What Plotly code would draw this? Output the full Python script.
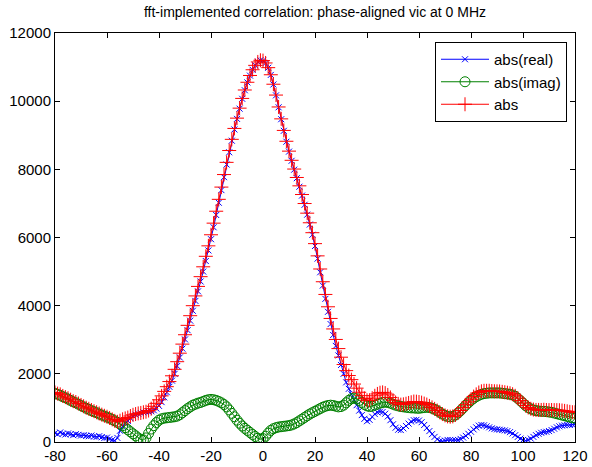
import plotly.graph_objects as go

lags = list(range(-80, 121))

abs_real = [
    260, 230, 280, 240, 220, 250, 230, 200, 230, 210, 190, 200, 180, 170, 190, 160, 150, 170, 140, 120, 130, 90, 60, 40, 120,
    330, 460, 550, 620, 700, 760, 800, 830, 850, 870, 880,
    890, 900, 930, 980, 1060, 1170, 1310, 1460, 1620, 1800,
    2000, 2230, 2480, 2740, 3010, 3280, 3560, 3850, 4140, 4420,
    4710, 5000, 5310, 5620, 5950, 6300, 6660, 7020, 7390, 7770,
    8140, 8500, 8840, 9170, 9480, 9780, 10070, 10320, 10550, 10750,
    10920, 11050, 11150, 11200, 11190, 11120, 10980, 10770, 10490, 10170,
    9820, 9470, 9130, 8810, 8520, 8250, 7990, 7740, 7490, 7230,
    6960, 6670, 6380, 6080, 5750, 5380, 4980, 4590, 4200, 3820,
    3460, 3140, 2820, 2540, 2260, 2000, 1750, 1560, 1400, 1240,
    1080, 920, 790, 680, 610, 650, 740, 820, 870, 890,
    880, 830, 750, 640, 520, 420, 360, 350, 400, 470,
    540, 600, 640, 650, 630, 580, 500, 410, 320, 230,
    150, 80, 30, 20, 40, 60, 60, 50, 50, 60,
    90, 130, 180, 240, 300, 370, 430, 480, 500, 490,
    460, 430, 400, 380, 370, 360, 350, 340, 320, 290,
    250, 200, 150, 100, 60, 40, 60, 100, 150, 200,
    240, 270, 290, 300, 320, 350, 390, 430, 460, 480,
    490, 500, 500, 510, 520,
]

abs_imag = [
    1430, 1400, 1370, 1330, 1300, 1260, 1220, 1180, 1150, 1110, 1070, 1030, 990, 960, 920, 890, 860, 820, 790, 760, 730, 700, 660, 620, 580,
    530, 480, 420, 360, 300, 240, 180, 120, 70, 60, 120,
    250, 380, 480, 570, 640, 680, 700, 710, 720, 730,
    740, 760, 800, 860, 920, 980, 1030, 1080, 1110, 1140,
    1160, 1190, 1220, 1240, 1250, 1240, 1220, 1190, 1150, 1100,
    1030, 940, 840, 740, 640, 550, 470, 400, 340, 280,
    220, 160, 110, 80, 100, 170, 260, 340, 390, 420,
    440, 450, 460, 470, 480, 500, 530, 570, 620, 670,
    720, 770, 820, 860, 900, 940, 980, 1020, 1050, 1070,
    1080, 1070, 1050, 1030, 1040, 1080, 1150, 1220, 1270, 1290,
    1270, 1220, 1160, 1100, 1060, 1040, 1050, 1080, 1110, 1140,
    1160, 1170, 1160, 1140, 1110, 1080, 1060, 1040, 1030, 1020,
    1010, 1000, 1000, 990, 990, 1000, 1010, 1020, 1010, 990,
    960, 920, 870, 820, 780, 750, 740, 750, 790, 850,
    920, 1000, 1080, 1150, 1220, 1280, 1330, 1370, 1400, 1420,
    1430, 1440, 1440, 1440, 1440, 1440, 1430, 1420, 1410, 1400,
    1380, 1340, 1280, 1210, 1140, 1070, 1010, 970, 940, 920,
    910, 900, 900, 890, 880, 870, 850, 830, 810, 790,
    770, 750, 730, 710, 700,
]

abs_total = [
    1453, 1419, 1398, 1351, 1318, 1285, 1241, 1197, 1173, 1130, 1087, 1049, 1006, 975, 939, 904, 873, 837, 802, 769, 741, 706, 663, 621, 592,
    624, 665, 692, 717, 762, 797, 820, 839, 853, 872, 888,
    924, 977, 1047, 1134, 1238, 1353, 1485, 1623, 1773, 1942,
    2132, 2356, 2606, 2872, 3147, 3423, 3706, 3999, 4286, 4565,
    4851, 5140, 5448, 5755, 6080, 6421, 6771, 7120, 7479, 7847,
    8205, 8552, 8880, 9200, 9502, 9795, 10081, 10328, 10555, 10754,
    10922, 11051, 11151, 11200, 11190, 11121, 10983, 10775, 10497, 10179,
    9830, 9481, 9142, 8823, 8534, 8265, 8008, 7761, 7516, 7261,
    6997, 6714, 6432, 6141, 5820, 5461, 5076, 4702, 4329, 3967,
    3625, 3317, 3009, 2741, 2488, 2273, 2094, 1950, 1830, 1700,
    1580, 1460, 1360, 1280, 1225, 1226, 1285, 1356, 1410, 1446,
    1456, 1434, 1381, 1307, 1226, 1159, 1119, 1097, 1105, 1123,
    1145, 1166, 1187, 1184, 1173, 1156, 1127, 1099, 1059, 1016,
    972, 923, 871, 820, 781, 752, 742, 752, 792, 852,
    924, 1008, 1095, 1175, 1256, 1332, 1398, 1452, 1487, 1502,
    1502, 1503, 1495, 1489, 1487, 1484, 1472, 1460, 1446, 1430,
    1402, 1355, 1289, 1214, 1142, 1071, 1012, 975, 952, 941,
    941, 940, 946, 939, 936, 938, 935, 935, 932, 924,
    913, 901, 885, 874, 872,
]

x_ticks = [-80, -60, -40, -20, 0, 20, 40, 60, 80, 100, 120]
y_ticks = [0, 2000, 4000, 6000, 8000, 10000, 12000]

FONT = "Liberation Sans, Arial, sans-serif"

fig = go.Figure()
fig.add_trace(go.Scatter(
    x=lags, y=abs_real, mode="lines+markers", name="abs(real)",
    line=dict(color="#0000ff", width=1),
    marker=dict(symbol="x-thin", size=6, line=dict(color="#0000ff", width=1)),
))
fig.add_trace(go.Scatter(
    x=lags, y=abs_imag, mode="lines+markers", name="abs(imag)",
    line=dict(color="#008000", width=1),
    marker=dict(symbol="circle-open", size=10, color="#008000", line=dict(color="#008000", width=1)),
))
fig.add_trace(go.Scatter(
    x=lags, y=abs_total, mode="lines+markers", name="abs",
    line=dict(color="#ff0000", width=1),
    marker=dict(symbol="cross-thin", size=10, line=dict(color="#ff0000", width=1)),
))

L, R, T, B = 54.5, 17, 33, 25
W, H = 592, 467
pw = W - L - R
ph = H - T - B

fig.update_layout(
    width=W, height=H,
    margin=dict(l=L, r=R, t=T, b=B, pad=0, autoexpand=False),
    paper_bgcolor="white", plot_bgcolor="white",
    font=dict(family=FONT, size=15, color="black"),
    title=dict(text="fft-implemented correlation: phase-aligned vic at 0 MHz",
               x=0.5, xanchor="center", xref="paper",
               y=1 - 12 / H, yanchor="middle", yref="container",
               font=dict(family=FONT, size=14, color="black")),
    showlegend=True,
    legend=dict(x=(567 - L) / pw, xanchor="right", y=(H - B - 42) / ph, yanchor="top",
                bgcolor="white", bordercolor="black", borderwidth=1,
                font=dict(family=FONT, size=15, color="black"),
                itemwidth=48, tracegroupgap=0),
)
fig.update_xaxes(range=[-80, 120], tickvals=x_ticks, ticktext=[str(v) for v in x_ticks],
                 ticks="inside", ticklen=5, tickcolor="black", showline=True, linecolor="black",
                 linewidth=1, mirror="ticks", showgrid=False, zeroline=False, automargin=False,
                 tickfont=dict(family=FONT, size=15, color="black"))
fig.update_yaxes(range=[0, 12000], tickvals=y_ticks, ticktext=[str(v) for v in y_ticks],
                 ticks="inside", ticklen=5, tickcolor="black", showline=True, linecolor="black",
                 linewidth=1, mirror="ticks", showgrid=False, zeroline=False, automargin=False,
                 tickfont=dict(family=FONT, size=15, color="black"))

fig.write_html("out.html")
